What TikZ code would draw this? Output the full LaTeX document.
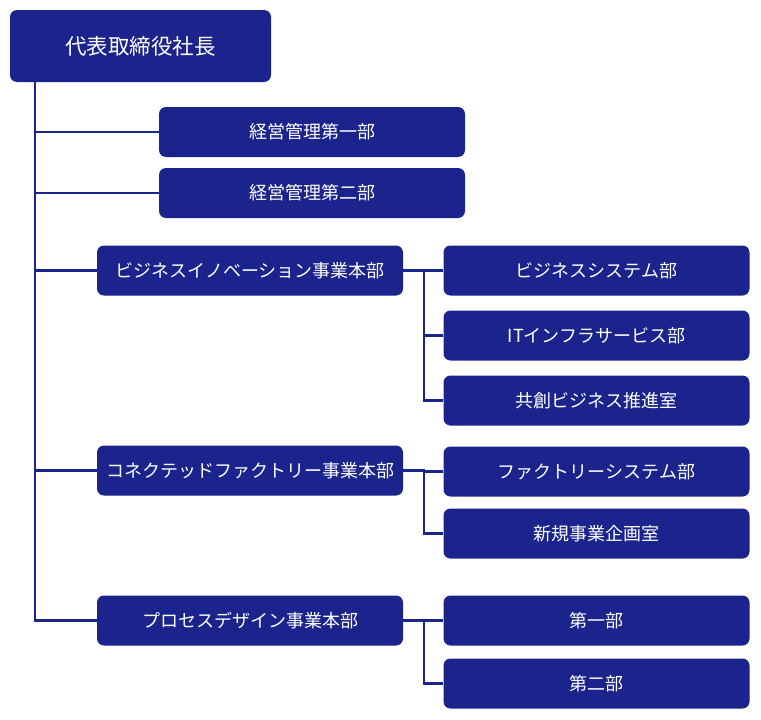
\documentclass[tikz,border=0pt]{standalone}
\usepackage{fontspec}
\setmainfont{Noto Sans CJK JP}
\usepackage{tikz}
\usetikzlibrary{calc}

\definecolor{navy}{RGB}{27,36,140}

\begin{document}
\begin{tikzpicture}[x=1pt,y=-1pt,
    box/.style={fill=navy, draw=none, rounded corners=7pt, text=white,
                inner sep=0pt, minimum width=306pt, minimum height=50pt,
                font=\fontsize{18}{20}\selectfont},
    link/.style={draw=navy, line width=2.6pt}]
    % dbg grid
    %\draw[help lines] (0,0) grid[step=50] (761,720);
    \useasboundingbox (0,0) rectangle (761,720);

    % vertice
    \node[box, minimum width=261pt, minimum height=72pt,
          font=\fontsize{21.5}{24}\selectfont] (ceo) at (140.5,46) {代表取締役社長};

    % primo livello
    \node[box] (kei1) at (312,132) {経営管理第一部};
    \node[box] (kei2) at (312,193) {経営管理第二部};
    \node[box] (bi)   at (250,270.5) {ビジネスイノベーション事業本部};
    \node[box] (cf)   at (250,470.5) {コネクテッドファクトリー事業本部};
    \node[box] (pd)   at (250,620.5) {プロセスデザイン事業本部};

    % secondo livello
    \node[box] (bs)  at (596.5,270.5) {ビジネスシステム部};
    \node[box] (it)  at (596.5,335.5) {ITインフラサービス部};
    \node[box] (kyo) at (596.5,400.5) {共創ビジネス推進室};
    \node[box] (fs)  at (596.5,471.5) {ファクトリーシステム部};
    \node[box] (sk)  at (596.5,533.5) {新規事業企画室};
    \node[box] (d1)  at (596.5,620.5) {第一部};
    \node[box] (d2)  at (596.5,683.5) {第二部};

    % tronco principale
    \coordinate (top) at (35,82);
    \draw[link] (top) |- (pd.west);
    \foreach \n in {kei1,kei2,bi,cf}
        \draw[link] (top |- \n.west) -- (\n.west);

    % rami
    \coordinate (jbi) at (424,0);
    \draw[link] (bi.east) -- (bi.east -| jbi) |- (kyo.west);
    \foreach \n in {bs,it}
        \draw[link] (jbi |- \n.west) -- (\n.west);

    \draw[link] (cf.east) -- (cf.east -| jbi) |- (sk.west);
    \draw[link] (jbi |- fs.west) -- (fs.west);

    \draw[link] (pd.east) -- (pd.east -| jbi) |- (d2.west);
    \draw[link] (jbi |- d1.west) -- (d1.west);
\end{tikzpicture}
\end{document}
